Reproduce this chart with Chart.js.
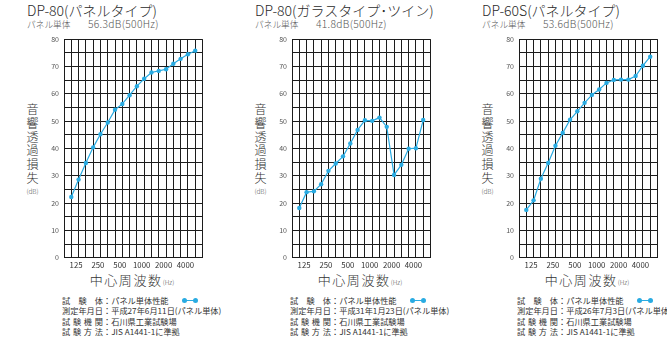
<!DOCTYPE html>
<html>
<head>
<meta charset="utf-8">
<script src="https://cdn.jsdelivr.net/npm/chart.js@4/dist/chart.umd.min.js"></script>
<style>
  html, body { margin: 0; padding: 0; background: #fff; }
  body { width: 667px; height: 340px; position: relative; overflow: hidden;
         font-family: "Noto Sans CJK JP", "Noto Sans", sans-serif; color: #333; }
  .abs { position: absolute; white-space: nowrap; }
  .title { font-size: 14px; line-height: 16px; color: #2a2a2a; font-weight: 300; }
  .sub { font-size: 8.7px; line-height: 11px; color: #555; font-weight: 300; }
  .sub .val { position: absolute; left: 61px; top: -1px; font-size: 10.3px; letter-spacing: 0.3px; }
  .ylab { font-size: 12px; line-height: 13.8px; text-align: center; width: 16px; color: #333; font-weight: 300; }
  .ylab .unit { font-size: 6.5px; line-height: 10px; display: block; margin-top: 1px; color: #555; }
  .xlab { font-size: 13px; line-height: 16px; letter-spacing: 1.6px; color: #333; font-weight: 300; }
  .xlab small { font-size: 6.5px; letter-spacing: 0; color: #555; }
  .notes { font-size: 8.2px; line-height: 10.5px; color: #333; }
  .notes .k { display: inline-block; width: 5em; text-align: justify; text-align-last: justify; }
  .mark { position: absolute; height: 1.2px; background: #29abe2; }
  .mark::before, .mark::after { content: ''; position: absolute; top: -2px; width: 5px; height: 5px;
         border-radius: 50%; background: #29abe2; }
  .mark::before { left: -2px; } .mark::after { right: -2px; }
  canvas { position: absolute; }
</style>
</head>
<body>
<script>
// 1/3 octave centre frequencies (Hz)
const freqs = ['100','125','160','200','250','315','400','500','630','800','1000','1250','1600','2000','2500','3150','4000','5000'];
const tickLabels = ['125','250','500','1000','2000','4000'];
const yLabelStep = 10;

const titles = ['DP-80(パネルタイプ)', 'DP-80(ガラスタイプ･ツイン)', 'DP-60S(パネルタイプ)'];
const ratings = ['56.3dB(500Hz)', '41.8dB(500Hz)', '53.6dB(500Hz)'];
const testDates = ['平成27年6月11日(パネル単体)', '平成31年1月23日(パネル単体)', '平成26年7月3日(パネル単体)'];

const panelValues = [22.2, 28.6, 34.7, 40.4, 45.2, 49.5, 54.2, 56.3, 59.5, 62.8, 65.5, 67.8, 68.4, 69.0, 71.0, 72.8, 74.5, 75.8];
const glassValues = [18.2, 24.0, 24.3, 26.9, 31.8, 34.5, 37.1, 41.8, 46.8, 50.3, 50.1, 51.3, 47.9, 30.3, 34.0, 39.9, 40.1, 50.4];
const dp60Values = [17.5, 21.0, 28.9, 34.7, 41.0, 45.7, 50.5, 53.6, 56.7, 59.6, 61.6, 64.0, 65.1, 65.2, 65.2, 66.5, 70.3, 73.6];
const seriesList = [panelValues, glassValues, dp60Values];

const plotLefts = [64, 292, 519];
const lineColor = '#29abe2';
const gridColor = '#1c1c1c';

function addDiv(cls, left, top, html) {
  const d = document.createElement('div');
  d.className = 'abs ' + cls;
  d.style.left = left + 'px';
  d.style.top = top + 'px';
  d.innerHTML = html;
  document.body.appendChild(d);
  return d;
}

function buildPanel(i) {
  const L = plotLefts[i];
  addDiv('title', L - 37, 2, titles[i]);
  addDiv('sub', L - 37, 18.5, 'パネル単体<span class="val">' + ratings[i] + '</span>');
  addDiv('ylab', L - 39.5, 102, '音<br>響<br>透<br>過<br>損<br>失<span class="unit">(dB)</span>');
  const xl = addDiv('xlab', L + 68, 272, '中心周波数<small>(Hz)</small>');
  xl.style.transform = 'translateX(-50%)';
  addDiv('notes', L - 2, 294.5,
    '<span class="k">試験体</span>：パネル単体性能<br>' +
    '<span class="k">測定年月日</span>：' + testDates[i] + '<br>' +
    '<span class="k">試験機関</span>：石川県工業試験場<br>' +
    '<span class="k">試験方法</span>：JIS A1441-1に準拠');
  const m = document.createElement('div');
  m.className = 'mark';
  m.style.left = (L + 120) + 'px';
  m.style.width = '12px';
  m.style.top = '299.5px';
  document.body.appendChild(m);

  const canvas = document.createElement('canvas');
  canvas.width = 180; canvas.height = 250;
  canvas.style.left = (L - 34) + 'px';
  canvas.style.top = '30px';
  canvas.style.width = '180px'; canvas.style.height = '250px';
  document.body.appendChild(canvas);

  const points = seriesList[i].map((v, k) => ({ x: k + 1, y: v }));
  new Chart(canvas.getContext('2d'), {
    type: 'line',
    data: {
      datasets: [{
        data: points,
        borderColor: lineColor,
        backgroundColor: lineColor,
        borderWidth: 1.2,
        pointRadius: 2.2,
        pointBorderWidth: 0,
        pointBackgroundColor: lineColor,
        tension: 0
      }]
    },
    options: {
      responsive: false,
      animation: false,
      devicePixelRatio: 1,
      layout: { padding: { top: 7.5, right: 7.5, left: 0, bottom: 0 } },
      plugins: { legend: { display: false }, tooltip: { enabled: false } },
      scales: {
        x: {
          type: 'linear', min: 0, max: freqs.length + 1,
          afterFit: s => { s.height = 22.3; },
          grid: { color: gridColor, lineWidth: 1, drawTicks: false },
          border: { color: gridColor, width: 1 },
          ticks: {
            stepSize: 1, autoSkip: false, maxRotation: 0, padding: 3, labelOffset: -2.5,
            color: '#333', font: { size: 7.8, family: 'Noto Sans CJK JP' },
            callback: v => {
              const f = freqs[v - 1];
              return tickLabels.includes(f) ? f : '';
            }
          }
        },
        y: {
          type: 'linear', min: 0, max: 80,
          afterFit: s => { s.width = 34; },
          grid: { color: gridColor, lineWidth: 1, drawTicks: false },
          border: { color: gridColor, width: 1 },
          ticks: {
            stepSize: 5, autoSkip: false, padding: 5,
            color: '#555', font: { size: 7, family: 'Noto Sans CJK JP' },
            callback: v => (v % yLabelStep === 0 ? String(v) : '')
          }
        }
      }
    }
  });
}

[0, 1, 2].forEach(buildPanel);
</script>
</body>
</html>
